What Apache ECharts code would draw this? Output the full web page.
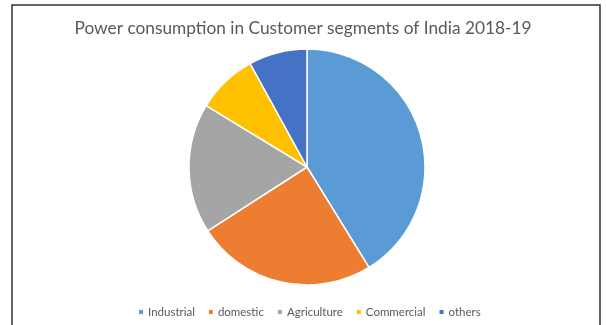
<!DOCTYPE html>
<html>
<head>
<meta charset="utf-8">
<script src="https://cdn.jsdelivr.net/npm/echarts@6/dist/echarts.min.js"></script>
<style>
  html, body { margin: 0; padding: 0; background: #fff; }
  #chart { width: 606px; height: 325px; }
</style>
</head>
<body>
<div id="chart"></div>
<script>
// Customer segments and their share of power consumption (%)
const segments = ['Industrial', 'domestic', 'Agriculture', 'Commercial', 'others'];
const shares = [41.2, 24.7, 17.8, 8.3, 8.0];
const colors = ['#5B9BD5', '#ED7D31', '#A5A5A5', '#FFC000', '#4472C4'];

const chart = echarts.init(document.getElementById('chart'), null, { renderer: 'canvas' });

chart.setOption({
  animation: false,
  backgroundColor: '#ffffff',
  color: colors,
  title: {
    text: 'Power consumption in Customer segments of India 2018-19',
    left: 'center',
    top: 15,
    textStyle: {
      fontFamily: 'Lato',
      fontWeight: 'normal',
      fontSize: 17.3,
      color: '#595959'
    }
  },
  legend: {
    bottom: 2,
    left: 132,
    icon: 'rect',
    itemWidth: 6,
    itemHeight: 6,
    itemGap: 12,
    textStyle: {
      fontFamily: 'Lato',
      fontSize: 11.5,
      color: '#595959',
      padding: [0, 0, 0, -1]
    },
    data: segments
  },
  graphic: [{
    type: 'rect',
    shape: { x: 12, y: 5, width: 588, height: 330 },
    style: { fill: 'none', stroke: '#333333', lineWidth: 1.5 },
    silent: true
  }],
  series: [{
    type: 'pie',
    center: [307, 167],
    radius: ['0%', 118],
    startAngle: 90,
    clockwise: true,
    label: { show: false },
    labelLine: { show: false },
    itemStyle: { borderColor: '#ffffff', borderWidth: 1.5 },
    data: segments.map((name, i) => ({ name, value: shares[i] }))
  }]
});
</script>
</body>
</html>
